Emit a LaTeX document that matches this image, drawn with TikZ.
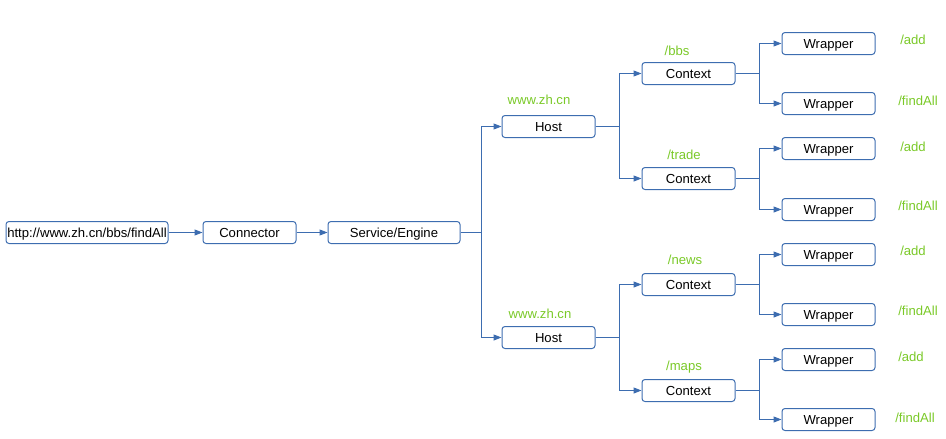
\documentclass[tikz,border=0pt]{standalone}
\usepackage{fontspec}
\setmainfont{Liberation Sans}
\usetikzlibrary{arrows.meta}
\definecolor{boxblue}{RGB}{61,109,176}
\definecolor{lbl}{RGB}{122,201,40}
\begin{document}
\begin{tikzpicture}[x=1pt,y=-1pt,
  box/.style={draw=boxblue,line width=1pt,rounded corners=3pt,minimum height=22pt,inner sep=0pt,text height=10.5pt,text depth=1.5pt,font=\fontsize{13.1}{14}\selectfont,text=black},
  lab/.style={text=lbl,inner sep=0pt,font=\fontsize{13.1}{14}\selectfont},
  conn/.style={draw=boxblue,line width=1pt,-{Triangle[length=8pt,width=6pt]}}]
\useasboundingbox (0,0) rectangle (946,439);
\node[box,minimum width=162pt] (url) at (87,232.5) {http://www.zh.cn/bbs/findAll};
\node[box,minimum width=93pt] (con) at (249.5,232.5) {Connector};
\node[box,minimum width=132pt] (eng) at (394,232.5) {Service/Engine};
\node[box,minimum width=93pt] (h1) at (548.5,126.5) {Host};
\node[box,minimum width=93pt] (h2) at (548.5,337.5) {Host};
\foreach \n/\y in {c1/73.5,c2/178.5,c3/284.5,c4/390.5}
  \node[box,minimum width=93pt] (\n) at (688.5,\y) {Context};
\foreach \n/\y in {w1/43.5,w2/103.5,w3/148.5,w4/209.5,w5/254.5,w6/314.5,w7/359.5,w8/419.5}
  \node[box,minimum width=93pt] (\n) at (828.5,\y) {Wrapper};
% labels
\node[lab] (lh1) at (539,100) {www.zh.cn};
\node[lab] (lh2) at (540,314) {www.zh.cn};
\node[lab] (lc1) at (677,51) {/bbs};
\node[lab] (lc2) at (684,155) {/trade};
\node[lab] (lc3) at (685,260) {/news};
\node[lab] (lc4) at (684,367) {/maps};
\node[lab] (lw1) at (913,40) {/add};
\node[lab] (lw2) at (918,101) {/findAll};
\node[lab] (lw3) at (913,147) {/add};
\node[lab] (lw4) at (918,206) {/findAll};
\node[lab] (lw5) at (913,251) {/add};
\node[lab] (lw6) at (918,311) {/findAll};
\node[lab] (lw7) at (911,357) {/add};
\node[lab] (lw8) at (915,418) {/findAll};
% connectors
\draw[conn] (url) -- (con);
\draw[conn] (con) -- (eng);
\draw[conn] (eng.east) -| (481,0 |- h1) -- (h1.west);
\draw[conn] (eng.east) -| (481,0 |- h2) -- (h2.west);
\draw[conn] (h1.east) -| (619,0 |- c1) -- (c1.west);
\draw[conn] (h1.east) -| (619,0 |- c2) -- (c2.west);
\draw[conn] (h2.east) -| (619,0 |- c3) -- (c3.west);
\draw[conn] (h2.east) -| (619,0 |- c4) -- (c4.west);
\draw[conn] (c1.east) -| (759,0 |- w1) -- (w1.west);
\draw[conn] (c1.east) -| (759,0 |- w2) -- (w2.west);
\draw[conn] (c2.east) -| (759,0 |- w3) -- (w3.west);
\draw[conn] (c2.east) -| (759,0 |- w4) -- (w4.west);
\draw[conn] (c3.east) -| (759,0 |- w5) -- (w5.west);
\draw[conn] (c3.east) -| (759,0 |- w6) -- (w6.west);
\draw[conn] (c4.east) -| (759,0 |- w7) -- (w7.west);
\draw[conn] (c4.east) -| (759,0 |- w8) -- (w8.west);
\end{tikzpicture}
\end{document}
